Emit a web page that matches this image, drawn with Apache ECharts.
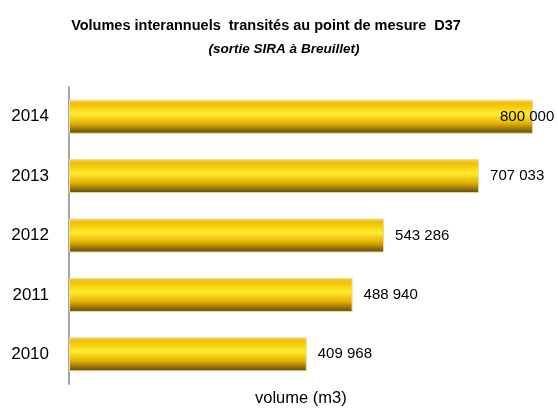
<!DOCTYPE html>
<html><head><meta charset="utf-8">
<script src="https://cdn.jsdelivr.net/npm/echarts@6/dist/echarts.min.js"></script>
<style>html,body{margin:0;padding:0;background:#fff}#c{width:558px;height:412px}</style>
</head><body><div id="c"></div>
<script>
const years = ['2010', '2011', '2012', '2013', '2014'];
const volumes = [409968, 488940, 543286, 707033, 800000];
const titleText = 'Volumes interannuels  transités au point de mesure  D37';
const subtitleText = '(sortie SIRA à Breuillet)';
const axisName = 'volume (m3)';

const fmt = v => String(v).replace(/\B(?=(\d{3})+(?!\d))/g, ' ');
const grad = new echarts.graphic.LinearGradient(0, 0, 0, 1, [
  {offset: 0, color: '#F0D45A'},
  {offset: 0.12, color: '#F2BE00'},
  {offset: 0.42, color: '#FFEC2E'},
  {offset: 0.7, color: '#E3B000'},
  {offset: 1, color: '#5A4610'}
]);
const data = volumes.map((v, i) => {
  const d = {value: v};
  if (i === volumes.length - 1) d.label = {offset: [-44, 0]};
  return d;
});
const chart = echarts.init(document.getElementById('c'), null, {renderer: 'canvas'});
chart.setOption({
  animation: false,
  title: [{
    text: titleText, left: 261, top: 13, textAlign: 'center',
    textStyle: {fontFamily: 'Liberation Sans', fontWeight: 'bold', fontSize: 14.5, color: '#000'}
  }, {
    text: subtitleText, left: 279, top: 37, textAlign: 'center',
    textStyle: {fontFamily: 'Liberation Sans', fontWeight: 'bold', fontStyle: 'italic', fontSize: 13.5, color: '#000'}
  }],
  grid: {left: 69, top: 87, width: 475.6, height: 299},
  xAxis: {
    type: 'value', min: 0, max: 820000,
    name: axisName, nameLocation: 'middle', nameGap: 6,
    nameTextStyle: {fontFamily: 'Liberation Sans', fontSize: 16.5, color: '#000', padding: [0, 12, 0, 0]},
    axisLine: {show: false}, axisTick: {show: false}, axisLabel: {show: false}, splitLine: {show: false}
  },
  yAxis: {
    type: 'category', data: years,
    axisLine: {show: true, lineStyle: {color: '#A6A6A6', width: 2}},
    axisTick: {show: false},
    axisLabel: {fontFamily: 'Liberation Sans', fontSize: 17, color: '#000', margin: 20}
  },
  series: [{
    type: 'bar', data: data, barWidth: 34,
    itemStyle: {color: grad, borderColor: '#EBD9A0', borderWidth: 1},
    label: {show: true, position: 'right', distance: 11, formatter: p => fmt(p.value),
      fontFamily: 'Liberation Sans', fontSize: 15, color: '#000'}
  }]
});
</script></body></html>
